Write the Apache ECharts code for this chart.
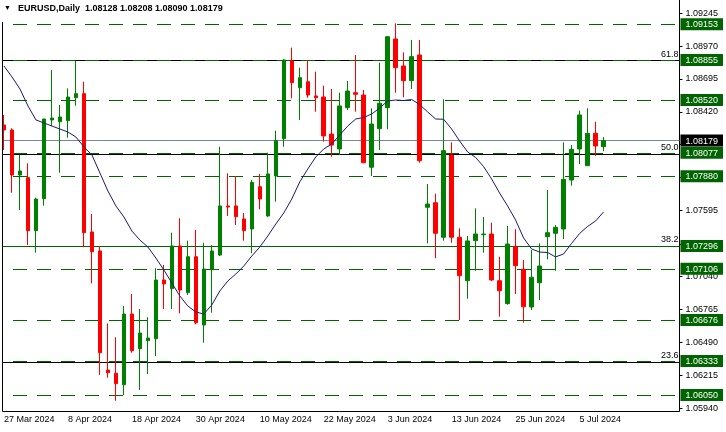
<!DOCTYPE html>
<html><head><meta charset="utf-8">
<script src="https://cdn.jsdelivr.net/npm/echarts/dist/echarts.min.js"></script>
<style>html,body{margin:0;padding:0;background:#fff}#chart{width:726px;height:432px}</style>
</head><body><div id="chart"></div>
<script>
const FONT = 'Liberation Sans';
const categories = ['27 Mar 2024','28 Mar 2024','29 Mar 2024','1 Apr 2024','2 Apr 2024','3 Apr 2024','4 Apr 2024','5 Apr 2024',
'8 Apr 2024','9 Apr 2024','10 Apr 2024','11 Apr 2024','12 Apr 2024','15 Apr 2024','16 Apr 2024','17 Apr 2024',
'18 Apr 2024','19 Apr 2024','22 Apr 2024','23 Apr 2024','24 Apr 2024','25 Apr 2024','26 Apr 2024','29 Apr 2024',
'30 Apr 2024','1 May 2024','2 May 2024','3 May 2024','6 May 2024','7 May 2024','8 May 2024','9 May 2024',
'10 May 2024','13 May 2024','14 May 2024','15 May 2024','16 May 2024','17 May 2024','20 May 2024','21 May 2024',
'22 May 2024','23 May 2024','24 May 2024','27 May 2024','28 May 2024','29 May 2024','30 May 2024','31 May 2024',
'3 Jun 2024','4 Jun 2024','5 Jun 2024','6 Jun 2024','7 Jun 2024','10 Jun 2024','11 Jun 2024','12 Jun 2024',
'13 Jun 2024','14 Jun 2024','17 Jun 2024','18 Jun 2024','19 Jun 2024','20 Jun 2024','21 Jun 2024','24 Jun 2024',
'25 Jun 2024','26 Jun 2024','27 Jun 2024','28 Jun 2024','1 Jul 2024','2 Jul 2024','3 Jul 2024','4 Jul 2024',
'5 Jul 2024','8 Jul 2024','9 Jul 2024','10 Jul 2024'];
const emptySlots = 9;

const openV = [1.08310,1.08268,1.07891,1.07869,1.07425,1.07693,1.08352,1.08337,1.08346,1.08538,
1.08572,1.07414,1.07255,1.06258,1.06231,1.06135,1.06727,1.06437,1.06504,1.06520,
1.07012,1.06939,1.07297,1.06906,1.07207,1.06635,1.07102,1.07221,1.07632,1.07632,
1.07523,1.07439,1.07793,1.07548,1.07883,1.08195,1.08848,1.08622,1.08672,1.08553,
1.08544,1.08234,1.08109,1.08455,1.08580,1.08561,1.07956,1.08279,1.08455,1.09030,
1.08804,1.08681,1.08896,1.07621,1.07659,1.07370,1.08059,1.07370,1.07006,1.07341,
1.07391,1.07397,1.07006,1.06814,1.07291,1.07102,1.06786,1.06989,1.07375,1.07403,
1.07439,1.07849,1.08109,1.07969,1.08240,1.08128];
const closeV = [1.08268,1.07891,1.07925,1.07425,1.07690,1.08360,1.08368,1.08377,1.08544,1.08572,
1.07408,1.07249,1.06403,1.06236,1.06144,1.06727,1.06420,1.06568,1.06526,1.07012,
1.06979,1.07297,1.06928,1.07207,1.06654,1.07104,1.07255,1.07632,1.07623,1.07542,
1.07425,1.07830,1.07690,1.07900,1.08178,1.08854,1.08664,1.08706,1.08561,1.08538,
1.08218,1.08142,1.08469,1.08594,1.08567,1.07994,1.08318,1.08492,1.09049,1.08790,
1.08681,1.08882,1.08011,1.07648,1.07403,1.08095,1.07370,1.07048,1.07339,1.07397,
1.07397,1.07012,1.06922,1.07313,1.07132,1.06788,1.07035,1.07129,1.07408,1.07453,
1.07855,1.08106,1.08394,1.08240,1.08134,1.08179];
const lowV = [1.08100,1.07743,1.07598,1.07305,1.07241,1.07634,1.08301,1.07910,1.08203,1.08471,
1.07286,1.06984,1.06217,1.06194,1.06001,1.06049,1.06403,1.06091,1.06225,1.06376,
1.06769,1.06769,1.06733,1.06886,1.06641,1.06487,1.06738,1.07213,1.07548,1.07472,
1.07341,1.07236,1.07604,1.07540,1.07668,1.08128,1.08533,1.08352,1.08538,1.08421,
1.08170,1.08044,1.08059,1.08435,1.08421,1.07990,1.07883,1.08100,1.08274,1.08580,
1.08542,1.08611,1.07994,1.07319,1.07194,1.07341,1.07324,1.06677,1.06855,1.07090,
1.07241,1.07004,1.06705,1.06805,1.06895,1.06654,1.06761,1.06845,1.07185,1.07090,
1.07355,1.07802,1.07983,1.07969,1.08050,1.08090];
const highV = [1.08394,1.08282,1.08059,1.07989,1.07700,1.08362,1.08770,1.08477,1.08617,1.08848,
1.08672,1.07565,1.07297,1.06649,1.06532,1.06794,1.06895,1.06769,1.06700,1.07110,
1.07138,1.07408,1.07529,1.07341,1.07431,1.07324,1.07305,1.08128,1.07905,1.07883,
1.07573,1.07849,1.07900,1.08078,1.08262,1.08860,1.08957,1.08790,1.08848,1.08756,
1.08639,1.08611,1.08580,1.08678,1.08896,1.08603,1.08450,1.08831,1.09055,1.09161,
1.08918,1.09022,1.09022,1.07816,1.07735,1.08525,1.08165,1.07445,1.07380,1.07612,
1.07539,1.07492,1.07207,1.07464,1.07437,1.07179,1.07263,1.07319,1.07766,1.07472,
1.08165,1.08142,1.08430,1.08450,1.08337,1.08208];
const maV = [1.08804,1.08712,1.08611,1.08469,1.08352,1.08327,1.08301,1.08276,1.08251,1.08209,
1.08126,1.08059,1.07908,1.07757,1.07632,1.07540,1.07422,1.07347,1.07288,1.07196,
1.07096,1.06987,1.06878,1.06794,1.06744,1.06727,1.06803,1.06920,1.07004,1.07062,
1.07129,1.07213,1.07288,1.07380,1.07481,1.07573,1.07690,1.07833,1.07941,1.08042,
1.08109,1.08151,1.08226,1.08301,1.08360,1.08373,1.08402,1.08452,1.08511,1.08519,
1.08515,1.08523,1.08481,1.08419,1.08360,1.08358,1.08276,1.08176,1.08084,1.08038,
1.07961,1.07858,1.07740,1.07632,1.07514,1.07364,1.07272,1.07246,1.07242,1.07205,
1.07230,1.07318,1.07401,1.07460,1.07506,1.07581];

const yTickLabels = [1.05940,1.06215,1.06490,1.06765,1.07040,1.07595,1.08420,1.08695,1.08970,1.09245];
const yTickMarks = [1.05940,1.06215,1.06490,1.06765,1.07040,1.07315,1.07595,1.07870,1.08145,1.08420,1.08695,1.08970,1.09245];
const dashedLevels = [1.09153,1.08855,1.08520,1.08077,1.07880,1.07106,1.06676,1.06333,1.06050];
const solidLevels = [1.07296];
const fibLevels = [1.08848,1.08069,1.07296,1.06325];
const fibNames = ['61.8','50.0','38.2','23.6'];
const boxLevels = [1.09153,1.08855,1.08520,1.08077,1.07880,1.07296,1.07106,1.06676,1.06333,1.06050];
const lastPrice = 1.08179;
const titleText = 'EURUSD,Daily  1.08128 1.08208 1.08090 1.08179';

const Y_MIN = 1.059151, Y_MAX = 1.093564;
const axisCats = categories.concat(Array(emptySlots).fill(''));
const candles = openV.map((o, i) => [o, closeV[i], lowV[i], highV[i]]);
const showIdx = (idx, val) => idx % 8 === 0 && val !== '';

const markData = [];
fibLevels.forEach((v, i) => markData.push({
  yAxis: v, lineStyle: {color: '#000', width: 1, type: 'solid'},
  label: {show: true, position: 'insideEndTop', formatter: fibNames[i], color: '#000', fontSize: 9, fontFamily: FONT, distance: [1, 2]}
}));
dashedLevels.forEach(v => markData.push({
  yAxis: v, lineStyle: {color: '#006400', width: 1, type: [14, 10], dashOffset: 11}, label: {show: false}
}));
solidLevels.forEach(v => markData.push({
  yAxis: v, lineStyle: {color: '#006400', width: 1, type: 'solid'}, label: {show: false}
}));
markData.push({yAxis: lastPrice, lineStyle: {color: '#778899', width: 1, type: 'solid'}, label: {show: false}});

const chart = echarts.init(document.getElementById('chart'), null, {renderer: 'canvas'});
chart.setOption({
  animation: false,
  backgroundColor: '#fff',
  title: {
    text: '{a|▼}{b|' + titleText + '}', left: 4, top: 4, padding: 0,
    textStyle: {rich: {a: {fontSize: 7, width: 14, color: '#000', fontFamily: FONT}, b: {fontSize: 9, color: '#000', fontFamily: FONT}}}
  },
  grid: {left: -0.5, top: 0, width: 680, height: 411, containLabel: false},
  xAxis: {
    type: 'category', data: axisCats, boundaryGap: true,
    axisLine: {lineStyle: {color: '#000', width: 1}},
    axisTick: {alignWithLabel: true, interval: showIdx, length: 4, lineStyle: {color: '#000'}},
    axisLabel: {interval: showIdx, align: 'left', margin: 4, fontSize: 9, color: '#000', fontFamily: FONT},
    splitLine: {show: false}
  },
  yAxis: [{
    type: 'value', position: 'right', min: Y_MIN, max: Y_MAX,
    splitLine: {show: false},
    axisLine: {show: true, lineStyle: {color: '#000', width: 1}},
    axisTick: {show: true, length: 3, customValues: yTickMarks, lineStyle: {color: '#000'}},
    axisLabel: {customValues: yTickLabels, formatter: v => v.toFixed(5), margin: 6, fontSize: 9, color: '#000', fontFamily: FONT}
  }, {
    type: 'value', position: 'right', min: Y_MIN, max: Y_MAX, z: 10,
    splitLine: {show: false}, axisLine: {show: false}, axisTick: {show: false},
    axisLabel: {
      customValues: boxLevels.concat([lastPrice]), margin: 1,
      formatter: v => (Math.abs(v - lastPrice) < 1e-7 ? '{k|' : '{g|') + v.toFixed(5) + '}',
      rich: {
        g: {backgroundColor: '#006400', color: '#fff', padding: [2, 5, 1, 5], fontSize: 9, fontFamily: FONT},
        k: {backgroundColor: '#000', color: '#fff', padding: [2, 5, 1, 5], fontSize: 9, fontFamily: FONT}
      }
    }
  }],
  series: [{
    type: 'candlestick', name: 'EURUSD', data: candles, z: 3, barWidth: 4,
    itemStyle: {color: '#008000', color0: '#ff0000', borderColor: '#008000', borderColor0: '#ff0000', borderWidth: 1},
    markLine: {silent: true, symbol: 'none', animation: false, z: 1, precision: 5, data: markData}
  }, {
    type: 'line', name: 'MA', data: maV, z: 4, symbol: 'none', smooth: false,
    lineStyle: {color: '#191970', width: 1}
  }],
  graphic: [
    {type: 'rect', z: 100, shape: {x: 0, y: 0, width: 2.5, height: 412}, style: {fill: '#fff'}},
    {type: 'line', z: 101, shape: {x1: 2.5, y1: 22, x2: 2.5, y2: 411.5}, style: {stroke: '#000', lineWidth: 1}}
  ]
});
</script></body></html>
